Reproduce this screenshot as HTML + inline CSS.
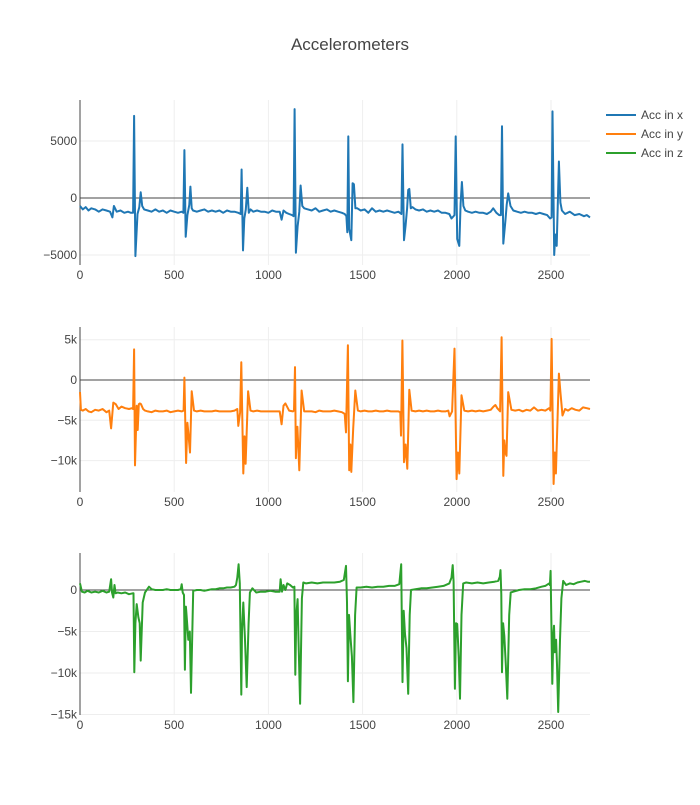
<!DOCTYPE html>
<html><head><meta charset="utf-8"><style>
body{margin:0;background:#fff;font-family:"Liberation Sans",sans-serif}
svg text{font-family:"Liberation Sans",sans-serif;fill:#444}
</style></head><body>
<svg id="chart" width="700" height="800">
<text x="350" y="50" text-anchor="middle" font-size="17">Accelerometers</text>
<g id="plots"></g>
<g id="legend"></g>
</svg>
<script>
const xTicks=[0,500,1000,1500,2000,2500];
const accXx=[0,15,30,45,60,80,100,120,140,160,172,180,195,215,235,255,270,282,
287,294,305,315,322,330,340,
360,380,400,420,440,460,480,500,520,540,549,
554,561,570,580,586,593,600,
620,640,660,680,700,720,740,760,780,800,820,840,853,
858,865,872,880,888,896,905,
920,940,960,980,1000,1020,1040,1060,1070,1080,1095,1110,1125,1134,
1139,1146,1155,1164,1171,1180,1190,
1210,1230,1250,1270,1290,1310,1330,1350,1370,1390,1405,1414,
1419,1424,1429,1440,1447,1454,1462,1472,
1490,1510,1530,1550,1570,1590,1610,1630,1650,1670,1690,1706,
1712,1720,1728,1736,1742,1748,1756,1765,
1780,1800,1820,1840,1860,1880,1900,1920,1940,1960,1972,1988,
1994,2002,2013,2020,2027,2035,2045,
2060,2080,2100,2120,2140,2160,2180,2193,2210,2225,2234,
2240,2247,2258,2265,2273,2285,2300,
2320,2340,2360,2380,2400,2420,2440,2460,2480,2495,2503,
2508,2517,2523,2530,2542,2550,2558,
2575,2600,2625,2650,2675,2690,2707];
const accXy=[-700,-1000,-800,-1100,-900,-1000,-1200,-1000,-1100,-1200,-1700,-700,-1200,-1100,-1300,-1200,-1300,-1300,
7200,-5100,-1400,-800,500,-700,-1000,
-1100,-1200,-1000,-1200,-1100,-1300,-1100,-1200,-1300,-1200,-1300,
4200,-3400,-1500,-600,1000,-900,-1100,
-1200,-1100,-1000,-1200,-1100,-1200,-1100,-1300,-1100,-1200,-1200,-1300,-1400,
2500,-4600,-1800,-1000,900,-1300,-1000,
-1200,-1100,-1200,-1200,-1300,-1100,-1200,-1200,-1900,-1100,-1300,-1400,-1500,-1600,
7800,-4800,-2500,-1200,1100,-700,-900,
-1000,-1100,-900,-1200,-1100,-1000,-1200,-1100,-1200,-1300,-1400,-1600,
-3000,5400,-2700,-3700,1300,1200,-900,-900,
-1100,-1000,-1300,-900,-1200,-1100,-1200,-1100,-1200,-1300,-1200,-1400,
4700,-3700,-2400,-900,700,800,-900,-800,
-1000,-1100,-1000,-1200,-1100,-1200,-1100,-1300,-1300,-1400,-1800,-1500,
5400,-3600,-4200,-500,1400,-700,-1100,
-1200,-1300,-1200,-1300,-1300,-1400,-1200,-900,-1300,-1500,-1500,
6300,-4000,-2000,-600,400,-700,-1100,
-1200,-1300,-1200,-1300,-1300,-1400,-1300,-1400,-1500,-1800,-1700,
7600,-5000,-3200,-4200,3200,-400,-1100,
-1400,-1200,-1500,-1400,-1600,-1500,-1700];
const accYx=[0,5,15,30,45,60,80,100,120,140,155,165,177,190,205,220,240,260,275,282,
287,292,301,306,312,318,324,335,345,
360,380,400,420,440,460,480,500,520,540,550,
554,563,570,575,584,593,605,
620,640,660,680,700,720,740,760,780,800,820,835,
840,850,856,867,873,879,892,905,
920,940,960,980,1000,1020,1040,1060,1070,1080,1090,1110,1130,1136,
1141,1146,1150,1154,1164,1176,1190,
1210,1230,1250,1270,1290,1310,1330,1350,1370,1390,1405,
1412,1422,1429,1435,1440,1450,1461,1475,
1490,1510,1530,1550,1570,1590,1610,1630,1650,1670,1690,1700,
1704,1711,1720,1728,1737,1748,1760,
1780,1800,1820,1840,1860,1880,1900,1920,1940,1955,1962,1975,
1988,1999,2006,2013,2025,2040,
2060,2080,2100,2120,2140,2160,2180,2195,2205,2215,2230,
2238,2247,2252,2258,2264,2273,2290,
2310,2330,2350,2370,2390,2410,2430,2450,2470,2490,2497,
2503,2514,2520,2526,2542,2550,2561,2575,
2590,2610,2630,2650,2670,2690,2707];
const accYy=[-1500,-3700,-3800,-3600,-3900,-4000,-3700,-3800,-3600,-4000,-3800,-6000,-2800,-3000,-3600,-3300,-3500,-3600,-3500,-3600,
3800,-10600,-3200,-6200,-3000,-2900,-3000,-3600,-3800,
-3900,-4000,-3800,-3900,-3900,-3800,-4000,-3900,-3800,-3900,-3800,
300,-10300,-5300,-6500,-9000,-1400,-3800,
-3900,-3800,-3900,-3900,-3900,-3800,-3900,-3900,-3900,-3900,-3800,-3600,
-5700,-4000,2200,-11600,-7000,-10400,-1400,-3800,
-3900,-3800,-3900,-3900,-3900,-3900,-3900,-3900,-5500,-3200,-2900,-3800,-3900,-3800,
1600,-9700,-6500,-5800,-11200,-1300,-3900,
-3900,-3900,-4000,-3800,-3900,-3900,-3900,-3800,-3900,-4000,-4200,
-6500,4300,-11200,-8000,-11400,-6000,-1300,-3800,
-3900,-3800,-3900,-3900,-3800,-3900,-3900,-3800,-3900,-3900,-3900,-4000,
-6900,4900,-10200,-8000,-11000,-1200,-3800,
-3900,-3800,-3900,-3800,-3900,-3900,-3800,-3900,-3900,-3800,-4500,-3900,
3900,-12300,-9000,-11600,-1900,-3800,
-3900,-3800,-3900,-3800,-3900,-3800,-3700,-3300,-3100,-3500,-3900,
5300,-11900,-7500,-9000,-9400,-1500,-3700,
-3800,-3700,-3900,-3700,-3800,-3400,-3800,-3700,-3800,-3500,-3800,
5100,-12900,-9000,-11600,800,-1500,-4400,-3600,
-3800,-3500,-3700,-3800,-3400,-3500,-3600];
const accZx=[0,10,25,40,60,80,100,120,140,155,165,170,177,183,189,200,220,240,260,280,284,
288,294,301,310,317,322,333,345,366,
380,400,420,440,460,480,500,520,535,
540,545,552,557,562,566,575,583,589,601,620,
640,660,680,700,720,740,760,780,800,820,828,835,
842,848,856,860,867,876,885,895,902,915,
935,960,985,1010,1035,1060,1065,1072,1080,1090,1100,1115,1130,
1138,1143,1148,1155,1160,1168,1178,1185,
1200,1230,1260,1290,1320,1350,1380,1400,
1412,1417,1422,1428,1436,1443,1451,1460,1468,
1490,1520,1550,1580,1610,1640,1670,1695,
1705,1712,1718,1725,1733,1742,1750,1757,
1780,1810,1840,1870,1900,1930,1960,1972,
1978,1983,1990,1996,2002,2010,2017,2025,2034,
2050,2080,2110,2140,2170,2200,2220,2228,
2232,2236,2240,2246,2252,2260,2268,2278,2286,
2300,2330,2360,2390,2420,2450,2470,2490,2494,
2498,2507,2512,2516,2520,2527,2532,2538,2548,2555,2565,
2580,2600,2620,2640,2660,2680,2695,2707];
const accZy=[800,-200,-300,-100,-300,-200,-300,-100,-300,-200,1300,-300,-900,600,-400,-300,-400,-300,-500,-400,-400,
-9900,-4000,-1700,-3300,-4000,-8500,-1500,-300,400,
100,0,0,0,100,0,0,0,100,
700,-300,-600,-9600,-2000,-3100,-6000,-5000,-12400,-100,0,
0,-100,0,100,100,200,200,300,300,400,600,1500,
3100,800,-12600,-5000,-1500,-6000,-11700,-4000,-300,200,
-300,-200,-200,-100,-200,-200,1300,-200,600,0,800,600,300,
400,-10200,-3000,-1100,-6000,-13700,-1000,900,
800,900,800,900,900,900,1000,1200,
2900,-1500,-11000,-3000,-5700,-8000,-13500,-3000,300,
300,400,300,400,400,500,500,700,
3100,-11100,-2500,-5300,-7000,-12500,-3000,0,
100,200,200,300,400,500,800,1500,
3000,1000,-11900,-4000,-4100,-8000,-13100,-3000,800,
900,800,900,800,900,1000,1100,1600,
2400,-500,-9900,-4000,-5500,-9000,-13100,-3000,-300,
-200,0,100,100,200,400,500,800,600,
2300,-11300,-5500,-4300,-7500,-6000,-9000,-14700,-6000,-1000,1100,
600,800,700,900,1000,1100,1000,1000];
const W0=80,W1=590,XMAX=2707;
function sx(v){return W0+(v/XMAX)*(W1-W0);}
const panels=[
 {name:'acc-x',top:100,bot:265,ymin:-5877,ymax:8596,ticks:[-5000,0,5000],lab:['−5000','0','5000'],xs:accXx,ys:accXy,color:'#1f77b4'},
 {name:'acc-y',top:327,bot:492,ymin:-13896,ymax:6576,ticks:[-10000,-5000,0,5000],lab:['−10k','−5k','0','5k'],xs:accYx,ys:accYy,color:'#ff7f0e'},
 {name:'acc-z',top:553,bot:715,ymin:-15060,ymax:4458,ticks:[-15000,-10000,-5000,0],lab:['−15k','−10k','−5k','0'],xs:accZx,ys:accZy,color:'#2ca02c'}
];
const NS='http://www.w3.org/2000/svg';
const plots=document.getElementById('plots');
function mk(tag,attrs,parent){const e=document.createElementNS(NS,tag);for(const k in attrs)e.setAttribute(k,attrs[k]);parent.appendChild(e);return e;}
panels.forEach(p=>{
 const sy=v=>p.bot-(v-p.ymin)/(p.ymax-p.ymin)*(p.bot-p.top);
 const g=mk('g',{},plots);
 
 
 xTicks.forEach(t=>{
  const l=mk('line',{x1:sx(t),x2:sx(t),y1:p.top,y2:p.bot,stroke:'#eee','stroke-width':1},g);
  
  
  const tx=mk('text',{x:sx(t),y:p.bot+14,'text-anchor':'middle','font-size':12},g);
  tx.textContent=t;
  
  
 });
 p.ticks.forEach((t,i)=>{
  if(t!==0){const l=mk('line',{x1:W0,x2:W1,y1:sy(t),y2:sy(t),stroke:'#eee','stroke-width':1},g);
  
  }
  const tx=mk('text',{x:W0-3,y:sy(t)+4,'text-anchor':'end','font-size':12},g);
  tx.textContent=p.lab[i];
  
  
 });
 const z=mk('line',{x1:W0,x2:W1,y1:sy(0),y2:sy(0),stroke:'#444','stroke-width':1},g);
 
 
 const ax=mk('line',{x1:W0,x2:W0,y1:p.top,y2:p.bot,stroke:'#444','stroke-width':1},g);
 
 
 const n=Math.min(p.xs.length,p.ys.length);
 let d='';
 for(let i=0;i<n;i++){d+=(i?'L':'M')+sx(p.xs[i]).toFixed(1)+','+sy(p.ys[i]).toFixed(1);}
 const path=mk('path',{d:d,fill:'none',stroke:p.color,'stroke-width':2,'stroke-linejoin':'round'},g);
 
 
});
const legNames=['Acc in x','Acc in y','Acc in z'];
const legColors=['#1f77b4','#ff7f0e','#2ca02c'];
const lg=document.getElementById('legend');
legNames.forEach((n,i)=>{
 const y=115+i*19;
 const g=mk('g',{},lg);
 
 
 mk('line',{x1:606,x2:636,y1:y,y2:y,stroke:legColors[i],'stroke-width':2},g);
 const t=mk('text',{x:641,y:y+4,'font-size':12},g);t.textContent=n;
});
</script>
</body></html>
